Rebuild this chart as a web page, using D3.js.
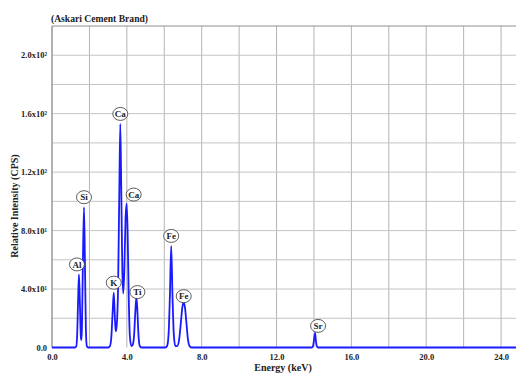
<!DOCTYPE html>
<html>
<head>
<meta charset="utf-8">
<script src="https://cdn.jsdelivr.net/npm/d3@7"></script>
<style>
  html, body { margin: 0; padding: 0; background: #fff; }
  svg { display: block; }
  text { font-family: "Liberation Serif", "DejaVu Serif", serif; font-weight: bold; fill: #222; }
</style>
</head>
<body>
<svg id="chart" width="516" height="373"></svg>
<script>
// XRF spectrum of the cement sample: energy (keV) and intensity (CPS) pairs
const energyKeV = [
  0.00, 1.20, 1.29, 1.34, 1.39, 1.44, 1.49, 1.54, 1.57, 1.60, 1.65, 1.71, 1.76, 1.81, 1.86, 1.93,
  3.00, 3.10, 3.17, 3.24, 3.30, 3.35, 3.40, 3.45, 3.53, 3.60, 3.65, 3.70, 3.76, 3.81, 3.87, 3.93, 3.99, 4.04, 4.10, 4.16, 4.24,
  4.32, 4.39, 4.46, 4.51, 4.56, 4.62, 4.69, 4.78,
  6.06, 6.15, 6.23, 6.30, 6.37, 6.44, 6.51, 6.59, 6.69, 6.79, 6.88, 6.96, 7.04, 7.11, 7.19, 7.27, 7.35, 7.45,
  13.88, 13.95, 14.00, 14.06, 14.10, 14.15, 14.22, 26.0
];
const intensityCPS = [
  0, 0, 0.5, 7, 30, 50, 31, 7.5, 5, 13, 58, 96, 58, 13, 1, 0,
  0, 1, 7, 24, 37.5, 24, 11, 14, 40, 110, 153, 110, 52, 37, 55, 88, 98.5, 80, 35, 8, 1,
  2, 9, 26, 34.5, 26, 9, 1, 0,
  0, 1, 9, 35, 69.5, 35, 9, 1, 1, 5, 16, 27, 31, 27, 16, 5, 1, 0,
  0, 1, 5, 10, 5, 1, 0, 0
];

// Identified emission lines
const peakElements = ["Al", "Si", "K", "Ca", "Ca", "Ti", "Fe", "Fe", "Sr"];
const peakEnergy   = [1.44, 1.71, 3.30, 3.65, 3.99, 4.51, 6.37, 7.04, 14.06];
const peakCPS      = [50, 96, 37.5, 153, 98.5, 34.5, 69.5, 31, 10];

const xTickValues = [0, 4, 8, 12, 16, 20, 24];
const xTickLabels = ["0.0", "4.0", "8.0", "12.0", "16.0", "20.0", "24.0"];
const yTickValues = [0, 40, 80, 120, 160, 200];
const yTickLabels = ["0.0", "4.0x10¹", "8.0x10¹", "1.2x10²", "1.6x10²", "2.0x10²"];

const titleText = "(Askari Cement Brand)";
const xTitle = "Energy (keV)";
const yTitle = "Relative Intensity (CPS)";

const svg = d3.select("#chart");
const plotLeft = 52, plotTop = 26, plotBottom = 347.5, plotRight = 538.5;

const x = d3.scaleLinear().domain([0, 26]).range([plotLeft, plotRight]);
const y = d3.scaleLinear().domain([0, 220]).range([plotBottom, plotTop]);

svg.append("rect").attr("width", 516).attr("height", 373).attr("fill", "#fff");

// grid every 2 keV and every 20 CPS
const grid = svg.append("g");
grid.selectAll("line.v").data(d3.range(0, 27, 2)).join("line")
  .attr("x1", d => x(d)).attr("x2", d => x(d))
  .attr("y1", plotTop).attr("y2", plotBottom)
  .attr("stroke", "#b4b4b4").attr("stroke-width", 1);
grid.selectAll("line.h").data(d3.range(20, 221, 20)).join("line")
  .attr("x1", plotLeft).attr("x2", plotRight)
  .attr("y1", d => y(d)).attr("y2", d => y(d))
  .attr("stroke", d => d === 220 ? "#909090" : "#c4c4c4").attr("stroke-width", 1);

// left axis line
svg.append("line").attr("x1", plotLeft).attr("x2", plotLeft).attr("y1", plotTop).attr("y2", plotBottom)
  .attr("stroke", "#8a8a8a").attr("stroke-width", 1);

// tick labels
const xAxis = d3.axisBottom(x).tickValues(xTickValues)
  .tickFormat((d, i) => xTickLabels[i]).tickSize(0).tickPadding(6);
const gx = svg.append("g").attr("transform", `translate(0,${plotBottom})`).call(xAxis);
gx.select(".domain").remove();
gx.selectAll("text").attr("font-size", 8.5).attr("fill", "#2a2a2a")
  .attr("font-family", "Liberation Serif, serif").attr("font-weight", "bold");

const yAxis = d3.axisLeft(y).tickValues(yTickValues)
  .tickFormat((d, i) => yTickLabels[i]).tickSize(0).tickPadding(5);
const gy = svg.append("g").attr("transform", `translate(${plotLeft},0)`).call(yAxis);
gy.select(".domain").remove();
gy.selectAll("text").attr("font-size", 8.5).attr("fill", "#2a2a2a")
  .attr("font-family", "Liberation Serif, serif").attr("font-weight", "bold");

// spectrum trace
const pts = energyKeV.map((e, i) => [e, intensityCPS[i]]);
const line = d3.line().x(d => x(d[0])).y(d => y(d[1])).curve(d3.curveMonotoneX);
svg.append("path").datum(pts)
  .attr("d", line).attr("fill", "none")
  .attr("stroke", "#1a1aff").attr("stroke-width", 1.8).attr("stroke-linejoin", "round");

// element labels in ellipses above each line
const nudge = { 0: [-2, -10], 4: [7, -9], 5: [1, -5], 7: [0, -6], 8: [3, -7] };
const lab = svg.append("g");
peakElements.forEach((name, i) => {
  const [dx, dy] = nudge[i] || [0, -10];
  const cx = x(peakEnergy[i]) + dx, cy = y(peakCPS[i]) + dy;
  lab.append("ellipse").attr("cx", cx).attr("cy", cy).attr("rx", 7.5).attr("ry", 6.5)
    .attr("fill", "#fff").attr("stroke", "#333").attr("stroke-width", 0.8);
  lab.append("text").attr("x", cx).attr("y", cy + 3.2).attr("text-anchor", "middle")
    .attr("font-size", 9).text(name);
});

// titles
svg.append("text").attr("x", 51).attr("y", 22).attr("font-size", 9.6).text(titleText);
svg.append("text").attr("x", 283).attr("y", 370.5).attr("text-anchor", "middle")
  .attr("font-size", 10).text(xTitle);
svg.append("text").attr("transform", "translate(18,206) rotate(-90)")
  .attr("text-anchor", "middle").attr("font-size", 10).text(yTitle);
</script>
</body>
</html>
